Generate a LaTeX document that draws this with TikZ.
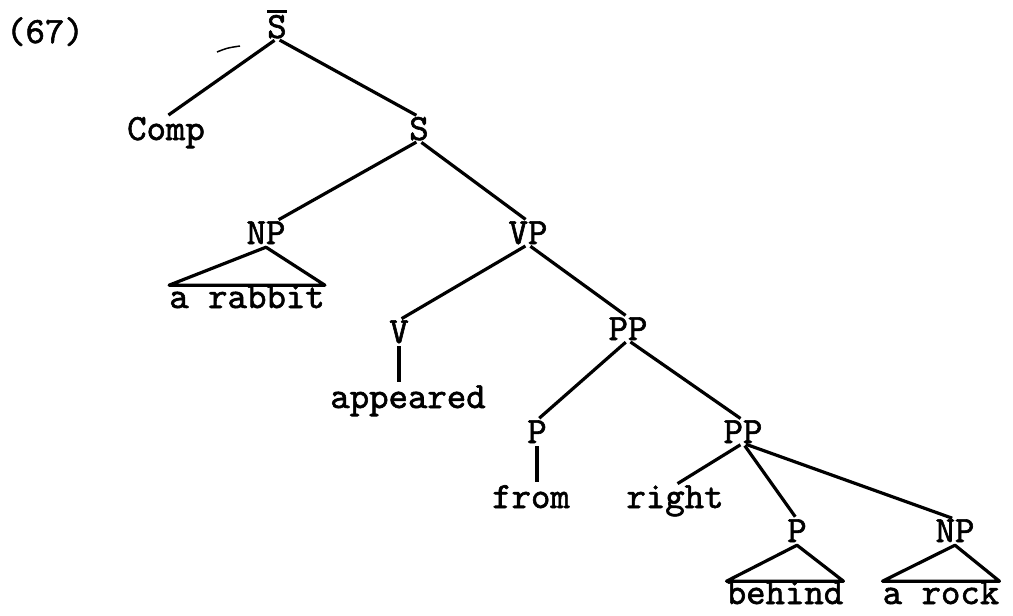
\documentclass[tikz,border=0pt]{standalone}
\usepackage{fontspec}
\newfontfamily\tw{lmmono10-regular.otf}[FakeBold=1.6]
\begin{document}
\begin{tikzpicture}[x=1pt,y=-1pt,
  lbl/.style={inner sep=0pt,anchor=base,font=\tw\fontsize{37}{40}\selectfont},
  edge/.style={line width=3.2pt,shorten <=3pt,shorten >=3pt},
  tri/.style={line width=3.2pt,line join=round}]
\useasboundingbox (0,0) rectangle (1013,616);
\node[lbl] (n67) at (45,43) {(67)};
\node[lbl] (Sbar) at (277,38) {S};
\node[lbl] (Comp) at (166,140) {Comp};
\node[lbl] (S) at (419,140) {S};
\node[lbl] (NP) at (266,244) {NP};
\node[lbl] (rab) at (247,308) {a rabbit};
\node[lbl] (VP) at (528,244) {VP};
\node[lbl] (V) at (399,343) {V};
\node[lbl] (app) at (408,408) {appeared};
\node[lbl] (PP) at (628,340) {PP};
\node[lbl] (P) at (537,443) {P};
\node[lbl] (PPb) at (743,443) {PP};
\node[lbl] (from) at (531,508) {from};
\node[lbl] (right) at (675,508) {right};
\node[lbl] (Pb) at (797,542) {P};
\node[lbl] (NPb) at (955,542) {NP};
\node[lbl] (behind) at (785,604) {behind};
\node[lbl] (rock) at (941,604) {a rock};
% bar over top S
\draw[line width=3pt] ([yshift=3pt]Sbar.north west) -- ([yshift=3pt]Sbar.north east);
% stray pen mark
\draw[line width=1.5pt] (217,52) .. controls (227,48) .. (240,46);
% edges
\draw[edge] (Sbar.south) -- (Comp.north);
\draw[edge] (Sbar.south) -- (S.north);
\draw[edge] (S.south) -- ([xshift=10pt]NP.north);
\draw[edge] (S.south) -- (VP.north);
\draw[edge] (VP.south) -- (V.north);
\draw[edge] (VP.south) -- (PP.north);
\draw[edge] (V.south) -- (V.south |- app.north);
\draw[edge] (PP.south) -- (P.north);
\draw[edge] (PP.south) -- (PPb.north);
\draw[edge] (P.south) -- (P.south |- from.north);
\draw[edge] (PPb.south) -- (right.north);
\draw[edge] (PPb.south) -- (Pb.north);
\draw[edge] (PPb.south) -- (NPb.north);
% triangles
\draw[tri] ([yshift=-3pt]NP.south) -- (rab.north west) -- (rab.north east) -- cycle;
\draw[tri] ([yshift=-3pt]Pb.south) -- (behind.north west) -- (behind.north east) -- cycle;
\draw[tri] ([yshift=-3pt]NPb.south) -- (rock.north west) -- (rock.north east) -- cycle;
\end{tikzpicture}
\end{document}
